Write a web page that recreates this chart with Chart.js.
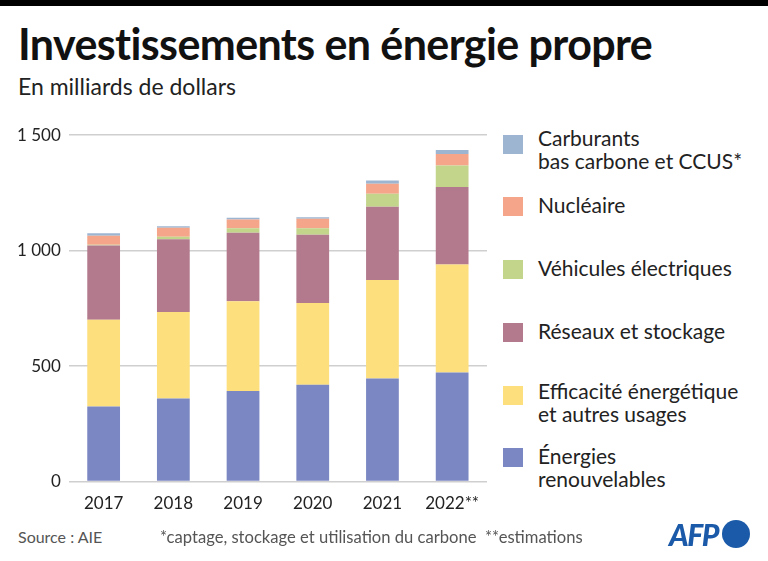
<!DOCTYPE html>
<html>
<head>
<meta charset="utf-8">
<script src="https://cdn.jsdelivr.net/npm/chart.js@4.4.0/dist/chart.umd.min.js"></script>
<style>
  body { margin: 0; background: #fff; font-family: Lato, "Open Sans", sans-serif; color: #111; }
  #page { position: relative; width: 768px; height: 561px; overflow: hidden; }
  #topbar { position: absolute; left: 0; top: 0; width: 768px; height: 6px; background: #000; }
  #title { position: absolute; left: 18px; top: 18px; font-size: 43px; font-weight: 700; letter-spacing: -0.6px; }
  #subtitle { position: absolute; left: 18px; top: 72px; font-size: 23px; color: #222; }
  #chartBox { position: absolute; left: 0; top: 117px; width: 495px; height: 403px; }
  #legend { position: absolute; left: 503px; top: 0; }
  .item { position: absolute; left: 0; width: 262px; }
  .sw { position: absolute; left: 0; top: 3px; width: 20px; height: 19px; }
  .lbl { position: absolute; left: 35px; top: -1px; font-size: 21px; line-height: 23px; color: #222; white-space: nowrap; }
  .foot { position: absolute; top: 527px; font-size: 16px; color: #555; }
  #afp { position: absolute; left: 669px; top: 516px; font-size: 30px; font-weight: 900; font-style: italic; color: #1b5aa8; letter-spacing: -1.5px; }
  #dot { position: absolute; left: 722px; top: 520px; width: 28px; height: 28px; border-radius: 50%; background: #1b5aa8; }
</style>
</head>
<body>
<div id="page">
  <div id="topbar"></div>
  <div id="title">Investissements en énergie propre</div>
  <div id="subtitle">En milliards de dollars</div>
  <div id="chartBox"><canvas id="chart"></canvas></div>
  <div id="legend"></div>
  <div class="foot" style="left:18px">Source : AIE</div>
  <div class="foot" style="left:160px; font-size:16.6px">*captage, stockage et utilisation du carbone &nbsp;**estimations</div>
  <div id="afp">AFP</div>
  <div id="dot"></div>
</div>
<script>
const years = ["2017", "2018", "2019", "2020", "2021", "2022**"];
const renouvelables = [325, 360, 392, 419, 446, 472];
const efficacite = [376, 374, 389, 354, 427, 468];
const reseaux = [321, 315, 297, 296, 317, 336];
const vehicules = [4, 11, 19, 28, 57, 93];
const nucleaire = [39, 39, 38, 41, 43, 50];
const carburants = [10, 7, 7, 7, 14, 17];
const yTickLabels = {0: "0", 500: "500", 1000: "1 000", 1500: "1 500"};

// legend rows: square top (px) and text shift
const series = [
  {label: "Énergies\nrenouvelables", data: renouvelables, color: "#7b87c3", top: 448, shift: -1},
  {label: "Efficacité énergétique\net autres usages", data: efficacite, color: "#fddf7d", top: 386, shift: -4},
  {label: "Réseaux et stockage", data: reseaux, color: "#b37a8e", top: 323, shift: -1},
  {label: "Véhicules électriques", data: vehicules, color: "#c3d48b", top: 260, shift: -1},
  {label: "Nucléaire", data: nucleaire, color: "#f5a68a", top: 197, shift: -1},
  {label: "Carburants\nbas carbone et CCUS*", data: carburants, color: "#9db5d0", top: 135, shift: -6}
];

const legend = document.getElementById("legend");
series.forEach(s => {
  const item = document.createElement("div");
  item.className = "item";
  item.style.top = (s.top - 3) + "px";
  item.innerHTML = '<div class="sw" style="background:' + s.color + '"></div>' +
    '<div class="lbl" style="top:' + s.shift + 'px">' + s.label.replace("\n", "<br>") + '</div>';
  legend.appendChild(item);
});

new Chart(document.getElementById("chart"), {
  type: "bar",
  data: {
    labels: years,
    datasets: series.map(s => ({
      label: s.label,
      data: s.data,
      backgroundColor: s.color,
      borderWidth: 0,
      barPercentage: 0.47,
      categoryPercentage: 1
    }))
  },
  options: {
    responsive: true,
    maintainAspectRatio: false,
    animation: false,
    layout: {padding: {left: 9, right: 8, top: 11, bottom: 2}},
    plugins: {legend: {display: false}, tooltip: {enabled: false}},
    scales: {
      x: {
        stacked: true,
        grid: {display: false},
        border: {display: false},
        ticks: {color: "#222", font: {family: "Lato", size: 17}, padding: 4}
      },
      y: {
        stacked: true,
        min: 0,
        max: 1500,
        grid: {color: "#cfcfcf", drawTicks: false, lineWidth: 1.5},
        border: {display: false},
        ticks: {
          stepSize: 500,
          color: "#222",
          font: {family: "Lato", size: 17},
          padding: 8,
          callback: v => yTickLabels[v]
        }
      }
    }
  }
});
</script>
</body>
</html>
